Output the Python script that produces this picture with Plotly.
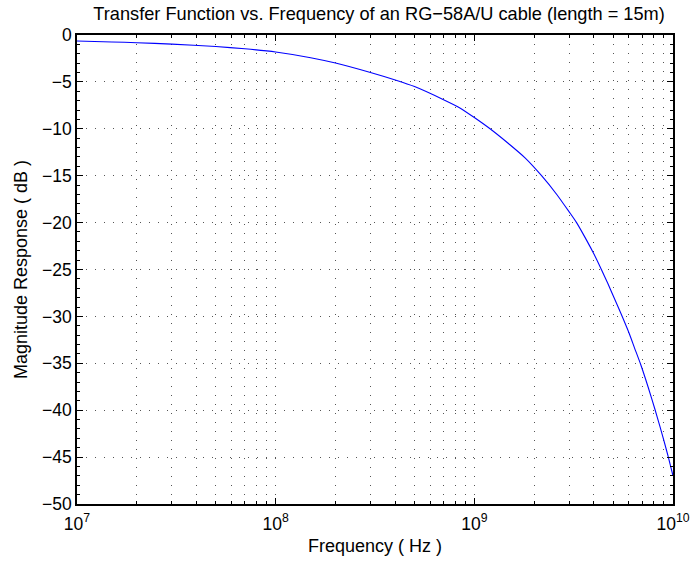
import plotly.graph_objects as go

# Values
freq_hz = [1e7, 1.5e7, 2e7, 3e7, 5e7, 7e7, 1e8, 1.5e8, 2e8, 3e8, 4e8, 5e8,
           7e8, 8.5e8, 1e9, 1.2e9, 1.5e9, 1.8e9, 2.18e9, 2.6e9, 3e9, 3.27e9,
           3.7e9, 4e9, 4.36e9, 4.7e9, 5e9, 5.47e9, 6e9, 6.4e9, 6.87e9,
           7.5e9, 8.11e9, 8.6e9, 9e9, 9.46e9, 1e10]
magnitude_db = [-0.64, -0.74, -0.82, -0.97, -1.23, -1.47, -1.81, -2.42,
                -2.99, -4.0, -4.8, -5.5, -6.9, -7.8, -8.8, -10.0, -11.65,
                -13.1, -15.0, -17.0, -18.85, -20.0, -22.0, -23.35, -25.0,
                -26.5, -27.8, -29.7, -31.75, -33.35, -35.1, -37.55, -39.9,
                -41.75, -43.25, -44.95, -47.0]

x_tick_vals = [1e7, 1e8, 1e9, 1e10]
x_tick_text = ["10<sup>7</sup>", "10<sup>8</sup>", "10<sup>9</sup>", "10<sup>10</sup>"]
x_minor_vals = [m * d for d in (1e7, 1e8, 1e9) for m in range(2, 10)]
y_tick_vals = [0, -5, -10, -15, -20, -25, -30, -35, -40, -45, -50]
y_minor_vals = [v for v in range(-49, 0) if v % 5 != 0]

FONT = "Liberation Sans, Arial, Helvetica, sans-serif"
GRID_DASH = "1px,8px"
GRID_COLOR = "#555555"

fig = go.Figure()
fig.add_trace(go.Scatter(
    x=freq_hz, y=magnitude_db, mode="lines",
    line=dict(color="#0000ff", width=1.1, shape="spline", smoothing=0.6),
    showlegend=False,
))

fig.update_layout(
    width=693, height=563,
    margin=dict(l=77, r=20, t=35, b=59, autoexpand=False),
    paper_bgcolor="white", plot_bgcolor="white",
    font=dict(family=FONT, color="black", size=17),
    title=dict(
        text="Transfer Function vs. Frequency of an RG\u221258A/U cable (length = 15m)",
        x=0.547, xref="container", xanchor="center",
        y=1 - 14 / 563, yref="container", yanchor="middle",
        font=dict(size=18.2, family=FONT, color="black"),
    ),
    xaxis=dict(
        type="log", range=[7, 10], automargin=False,
        tickvals=x_tick_vals, ticktext=x_tick_text,
        ticks="inside", ticklen=6, tickcolor="black",
        ticklabelstandoff=3,
        showline=True, linecolor="black", linewidth=1.5, mirror="ticks",
        showgrid=True, gridcolor=GRID_COLOR, gridwidth=1, griddash=GRID_DASH,
        zeroline=False,
        tickfont=dict(size=17.5),
        minor=dict(tickvals=x_minor_vals, ticks="inside", ticklen=3,
                   tickcolor="black", showgrid=True, gridcolor=GRID_COLOR,
                   gridwidth=1, griddash=GRID_DASH),
        title=dict(text="Frequency ( Hz )", font=dict(size=18), standoff=7),
    ),
    yaxis=dict(
        range=[-50, 0], automargin=False, tickvals=y_tick_vals,
        ticks="inside", ticklen=6, tickcolor="black",
        showline=True, linecolor="black", linewidth=1.5, mirror="ticks",
        showgrid=True, gridcolor=GRID_COLOR, gridwidth=1, griddash=GRID_DASH,
        zeroline=False,
        tickfont=dict(size=17.5),
        minor=dict(tickvals=y_minor_vals, ticks="inside", ticklen=3,
                   tickcolor="black", showgrid=False),
        title=dict(text="Magnitude Response ( dB )", font=dict(size=18), standoff=10),
    ),
)

fig.write_html("out.html")
